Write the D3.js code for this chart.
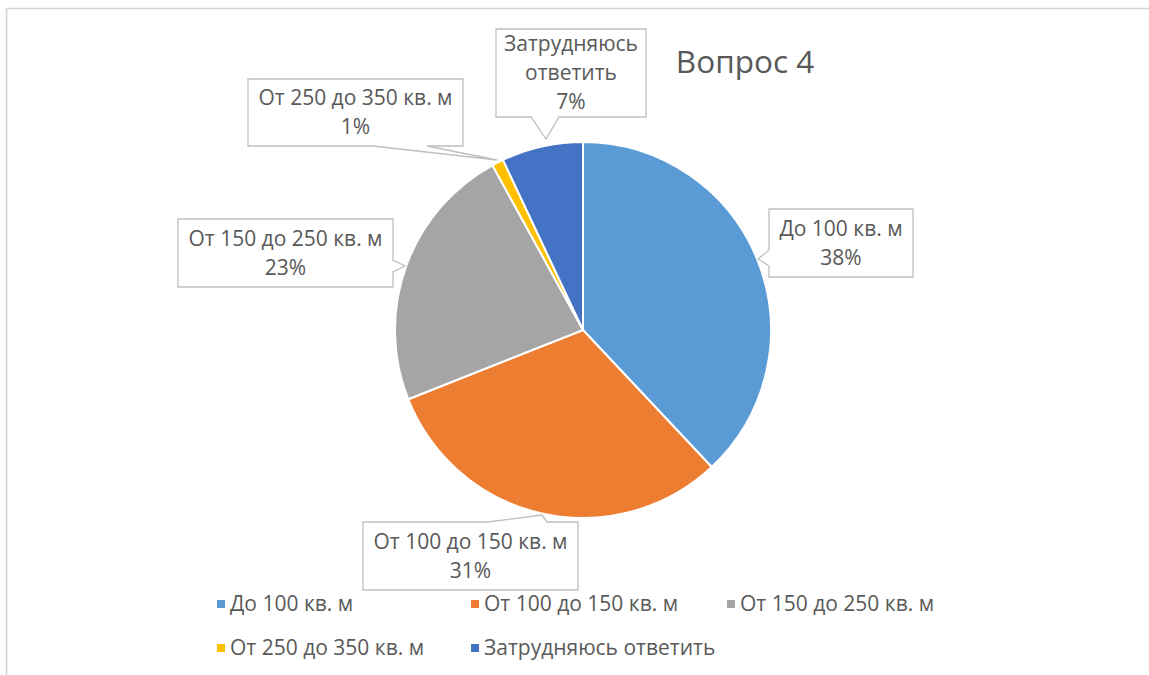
<!DOCTYPE html>
<html>
<head>
<meta charset="utf-8">
<script src="https://cdn.jsdelivr.net/npm/d3@7"></script>
<style>
  html, body { margin: 0; padding: 0; background: #fff; }
  svg { display: block; }
  text { font-family: "Open Sans", "Noto Sans", sans-serif; fill: #595959; }
</style>
</head>
<body>
<svg id="chart" width="1149" height="675"></svg>
<script>
// ---- data ----
const categories = ["До 100 кв. м", "От 100 до 150 кв. м", "От 150 до 250 кв. м", "От 250 до 350 кв. м", "Затрудняюсь ответить"];
const values = [38, 31, 23, 1, 7];
const colors = ["#5B9BD5", "#ED7D31", "#A5A5A5", "#FFC000", "#4472C4"];
const title = "Вопрос 4";

// ---- layout (label callouts) ----
const callouts = [
  { box: [769, 209, 144, 68], side: "left",   base: [250, 266], tip: [758, 259], wrap: false },
  { box: [363, 522, 215, 68], side: "top",    base: [488, 547], tip: [542, 515], wrap: false },
  { box: [178, 219, 215, 68], side: "right",  base: [260, 272], tip: [405, 266], wrap: false },
  { box: [248, 79, 215, 67],  side: "bottom", base: [373, 427], tip: [497, 160], wrap: false },
  { box: [496, 29, 150, 88],  side: "bottom", base: [531, 559], tip: [546, 139], wrap: true }
];

const svg = d3.select("#chart");
const W = 1149, H = 675;

// chart area border
svg.append("path")
  .attr("d", `M6.5,${H} L6.5,8.5 L${W},8.5`)
  .attr("fill", "none").attr("stroke", "#d4d4d4").attr("stroke-width", 1.6);

// pie
const cx = 583, cy = 330, R = 188;
const pie = d3.pie().value(d => d).sort(null).startAngle(0).endAngle(2 * Math.PI);
const arcs = pie(values);
const arc = d3.arc().innerRadius(0).outerRadius(R);
const g = svg.append("g").attr("transform", `translate(${cx},${cy})`);
g.selectAll("path.slice").data(arcs).join("path")
  .attr("class", "slice")
  .attr("d", arc)
  .attr("fill", (d, i) => colors[i])
  .attr("stroke", "#fff").attr("stroke-width", 2).attr("stroke-linejoin", "round");

// callouts
function calloutPath(c) {
  const [x, y, w, h] = c.box;
  const [b0, b1] = c.base;
  const [tx, ty] = c.tip;
  const r = x + w, b = y + h;
  let pts;
  if (c.side === "top") pts = [[x, y], [b0, y], [tx, ty], [b1, y], [r, y], [r, b], [x, b]];
  else if (c.side === "right") pts = [[x, y], [r, y], [r, b0], [tx, ty], [r, b1], [r, b], [x, b]];
  else if (c.side === "bottom") pts = [[x, y], [r, y], [r, b], [b1, b], [tx, ty], [b0, b], [x, b]];
  else pts = [[x, y], [r, y], [r, b], [x, b], [x, b1], [tx, ty], [x, b0]];
  return "M" + pts.map(p => p.join(",")).join("L") + "Z";
}

const lg = svg.append("g");
callouts.forEach((c, i) => {
  lg.append("path").attr("d", calloutPath(c))
    .attr("fill", "#fff").attr("stroke", "#bfbfbf").attr("stroke-width", 1.3);
  const lines = c.wrap ? categories[i].split(" ") : [categories[i]];
  lines.push(values[i] + "%");
  const [x, y, w, h] = c.box;
  const lh = 29;
  const startY = y + h / 2 - (lines.length - 1) * lh / 2;
  lines.forEach((t, j) => {
    lg.append("text")
      .attr("x", x + w / 2).attr("y", startY + j * lh)
      .attr("dy", "0.35em")
      .attr("text-anchor", "middle")
      .style("font-size", "21px")
      .text(t);
  });
});

// title
svg.append("text")
  .attr("x", 745).attr("y", 73)
  .attr("text-anchor", "middle")
  .style("font-size", "31.5px")
  .text(title);

// legend
const legendPos = [[217, 604], [471, 604], [727, 604], [217, 648], [471, 648]];
const leg = svg.append("g");
categories.forEach((cat, i) => {
  const [lx, ly] = legendPos[i];
  leg.append("rect").attr("x", lx).attr("y", ly - 4).attr("width", 8).attr("height", 8)
    .attr("fill", colors[i]);
  leg.append("text").attr("x", lx + 13).attr("y", ly).attr("dy", "0.35em")
    .style("font-size", "21px").text(cat);
});
</script>
</body>
</html>
